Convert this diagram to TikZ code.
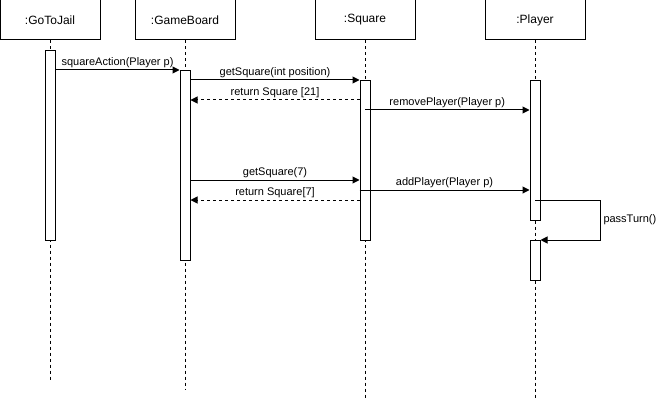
\documentclass[tikz,border=0pt]{standalone}
\usepackage{fontspec}
\setmainfont{Liberation Sans}
\usetikzlibrary{positioning}
\usetikzlibrary{arrows.meta}
\begin{document}
\begin{tikzpicture}[x=1pt,y=-1pt,line width=1pt,
  obj/.style={draw,minimum width=100pt,minimum height=40pt,inner sep=0pt,font=\fontsize{12}{14}\selectfont},
  bar/.style={draw,fill=white,minimum width=10pt,inner sep=0pt,anchor=north},
  life/.style={line width=0.8pt,dash pattern=on 3pt off 3pt},
  msg/.style={-{Triangle[length=7pt,width=7pt]}},
  ret/.style={msg,dash pattern=on 3pt off 3pt},
  lbl/.style={above,inner sep=2pt,font=\fontsize{11}{13}\selectfont}]
  \useasboundingbox (0,0) rectangle (658,401);
  \node[obj] (jail) at (50,20) {:GoToJail};
  \node[obj] (board) at (185,20) {:GameBoard};
  \node[obj] (square) at (365,20) {:Square};
  \node[obj] (player) at (535,20) {:Player};
  \coordinate (jailend) at (50,380);
  \coordinate (boardend) at (185,390);
  \coordinate (squareend) at (365,400);
  \coordinate (playerend) at (535,400);
  \draw[life] (jail) -- (jailend);
  \draw[life] (board) -- (boardend);
  \draw[life] (square) -- (squareend);
  \draw[life] (player) -- (playerend);
  \node[bar,minimum height=190pt] (jailbar) at (50,50) {};
  \node[bar,minimum height=190pt] (boardbar) at (185,70) {};
  \node[bar,minimum height=160pt] (squarebar) at (365,80) {};
  \node[bar,minimum height=140pt] (playerbar) at (535,80) {};
  \node[bar,minimum height=40pt] (playerbarb) at (535,240) {};
  \coordinate (r1) at (0,70);
  \coordinate (r2) at (0,80);
  \coordinate (r3) at (0,100);
  \coordinate (r4) at (0,110);
  \coordinate (r5) at (0,180);
  \coordinate (r6) at (0,190);
  \coordinate (r7) at (0,200);
  \coordinate (r8) at (0,240);
  \coordinate (loop) at (600,0);
  \draw[msg] (jailbar.east |- r1) -- node[lbl] {squareAction(Player p)} (boardbar.west |- r1);
  \draw[msg] (boardbar.east |- r2) -- node[lbl] {getSquare(int position)} (squarebar.west |- r2);
  \draw[ret] (squarebar.west |- r3) -- node[lbl] {return Square [21]} (boardbar.east |- r3);
  \draw[msg] (squarebar.center |- r4) -- node[lbl] {removePlayer(Player p)} (playerbar.west |- r4);
  \draw[msg] (boardbar.east |- r5) -- node[lbl] {getSquare(7)} (squarebar.west |- r5);
  \draw[msg] (squarebar.west |- r6) -- node[lbl] {addPlayer(Player p)} (playerbar.west |- r6);
  \draw[ret] (squarebar.west |- r7) -- node[lbl] {return Square[7]} (boardbar.east |- r7);
  \draw[msg] (playerbar.center |- r7) -| node[pos=0.75,right,inner sep=3pt,font=\fontsize{11}{13}\selectfont] {passTurn()} (loop |- r8) -- (playerbarb.east |- r8);
\end{tikzpicture}
\end{document}
